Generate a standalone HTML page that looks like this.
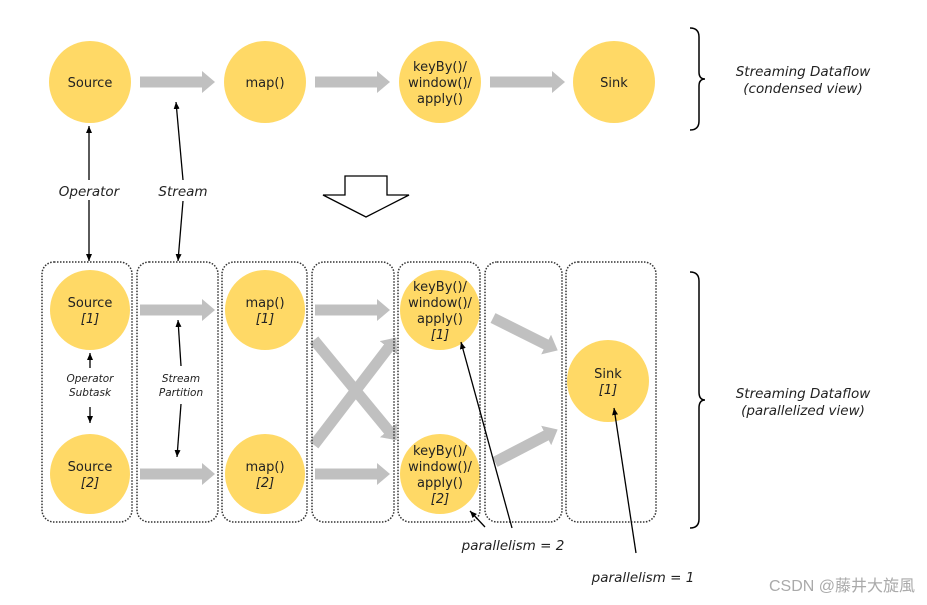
<!DOCTYPE html>
<html><head><meta charset="utf-8"><style>
html,body{margin:0;padding:0;background:#fff;width:927px;height:605px;overflow:hidden}
text{font-family:"DejaVu Sans","Liberation Sans",sans-serif;fill:#222}
</style></head><body>
<svg width="927" height="605" viewBox="0 0 927 605" xmlns="http://www.w3.org/2000/svg">
<defs>
<marker id="ah" markerWidth="8" markerHeight="8" refX="7" refY="4" orient="auto" markerUnits="userSpaceOnUse"><path d="M0,1 L7,4 L0,7 z" fill="#000"/></marker>
<marker id="gh" markerWidth="13" markerHeight="22" refX="1" refY="11" orient="auto" markerUnits="userSpaceOnUse"><path d="M0,0 L13,11 L0,22 z" fill="#c0c0c0"/></marker>
</defs>
<g fill="#ffd966">
<circle cx="90" cy="82" r="41"/><circle cx="265" cy="82" r="41"/><circle cx="440" cy="82" r="41"/><circle cx="614" cy="82" r="41"/>
<circle cx="90" cy="310" r="40"/><circle cx="90" cy="474" r="40"/><circle cx="265" cy="310" r="40"/><circle cx="265" cy="474" r="40"/>
<circle cx="440" cy="310" r="40"/><circle cx="440" cy="474" r="40"/><circle cx="608" cy="381" r="41"/>
</g>
<g stroke="#c0c0c0" stroke-width="11" marker-end="url(#gh)" fill="none">
<line x1="140" y1="82" x2="203" y2="82"/><line x1="315" y1="82" x2="378" y2="82"/><line x1="490" y1="82" x2="553" y2="82"/>
<line x1="140" y1="310" x2="203" y2="310"/><line x1="140" y1="474" x2="203" y2="474"/>
<line x1="315" y1="310" x2="378" y2="310"/><line x1="315" y1="474" x2="378" y2="474"/>
<line x1="314" y1="340" x2="389" y2="431"/><line x1="314" y1="445" x2="389" y2="347"/>
<line x1="493" y1="318" x2="547" y2="345"/><line x1="495" y1="462" x2="547" y2="435"/>
</g>
<g fill="none" stroke="#333" stroke-width="1.5" stroke-dasharray="1.5,1.5">
<rect x="42" y="262" width="90" height="260" rx="12"/><rect x="137" y="262" width="81" height="260" rx="12"/>
<rect x="222" y="262" width="85" height="260" rx="12"/><rect x="312" y="262" width="82" height="260" rx="12"/>
<rect x="398" y="262" width="82" height="260" rx="12"/><rect x="485" y="262" width="77" height="260" rx="12"/>
<rect x="566" y="262" width="90" height="260" rx="12"/>
</g>
<g stroke="#000" stroke-width="1.3" marker-end="url(#ah)">
<line x1="89" y1="180" x2="89" y2="126"/><line x1="89" y1="200" x2="89" y2="261"/>
<line x1="183" y1="180" x2="176" y2="102"/><line x1="183" y1="201" x2="178" y2="261"/>
<line x1="90" y1="368" x2="90" y2="353"/><line x1="90" y1="407" x2="90" y2="423"/>
<line x1="181" y1="366" x2="178" y2="320"/><line x1="181" y1="404" x2="177" y2="457"/>
<line x1="512" y1="528" x2="461" y2="342"/><line x1="485" y1="527" x2="470" y2="511"/>
<line x1="636" y1="553" x2="614" y2="408"/>
</g>
<path d="M345,176 H387 V195 H409 L366,217 L323,195 H345 Z" fill="#fff" stroke="#000" stroke-width="1.3"/>
<g fill="none" stroke="#000" stroke-width="1.5">
<path d="M690,28 Q699,28 699,37 V72 Q699,79 705,79 Q699,79 699,86 V121 Q699,130 690,130"/>
<path d="M690,272 Q699,272 699,281 V392 Q699,400 705,400 Q699,400 699,408 V519 Q699,528 690,528"/>
</g>
<g font-size="13" text-anchor="middle">
<text x="90" y="87">Source</text><text x="265" y="87">map()</text>
<text x="440" y="71">keyBy()/</text><text x="440" y="87">window()/</text><text x="440" y="103">apply()</text>
<text x="614" y="87">Sink</text>
<text x="90" y="307">Source</text><text x="90" y="323" font-style="italic">[1]</text>
<text x="90" y="471">Source</text><text x="90" y="487" font-style="italic">[2]</text>
<text x="265" y="307">map()</text><text x="265" y="323" font-style="italic">[1]</text>
<text x="265" y="471">map()</text><text x="265" y="487" font-style="italic">[2]</text>
<text x="440" y="291">keyBy()/</text><text x="440" y="307">window()/</text><text x="440" y="323">apply()</text><text x="440" y="339" font-style="italic">[1]</text>
<text x="440" y="455">keyBy()/</text><text x="440" y="471">window()/</text><text x="440" y="487">apply()</text><text x="440" y="503" font-style="italic">[2]</text>
<text x="608" y="378">Sink</text><text x="608" y="394" font-style="italic">[1]</text>
</g>
<g font-size="13.5" font-style="italic" text-anchor="middle">
<text x="89" y="196">Operator</text><text x="183" y="196">Stream</text>
<text x="803" y="76">Streaming Dataflow</text><text x="803" y="93">(condensed view)</text>
<text x="803" y="398">Streaming Dataflow</text><text x="803" y="415">(parallelized view)</text>
<text x="513" y="550">parallelism = 2</text><text x="643" y="582">parallelism = 1</text>
</g>
<g font-size="10.5" font-style="italic" text-anchor="middle">
<text x="90" y="382">Operator</text><text x="90" y="396">Subtask</text>
<text x="181" y="382">Stream</text><text x="181" y="396">Partition</text>
</g>
<text x="915" y="591" font-size="16" text-anchor="end" style="fill:#aaa;font-family:'Liberation Sans','Noto Sans CJK SC',sans-serif">CSDN @藤井大旋風</text>
</svg>
</body></html>
